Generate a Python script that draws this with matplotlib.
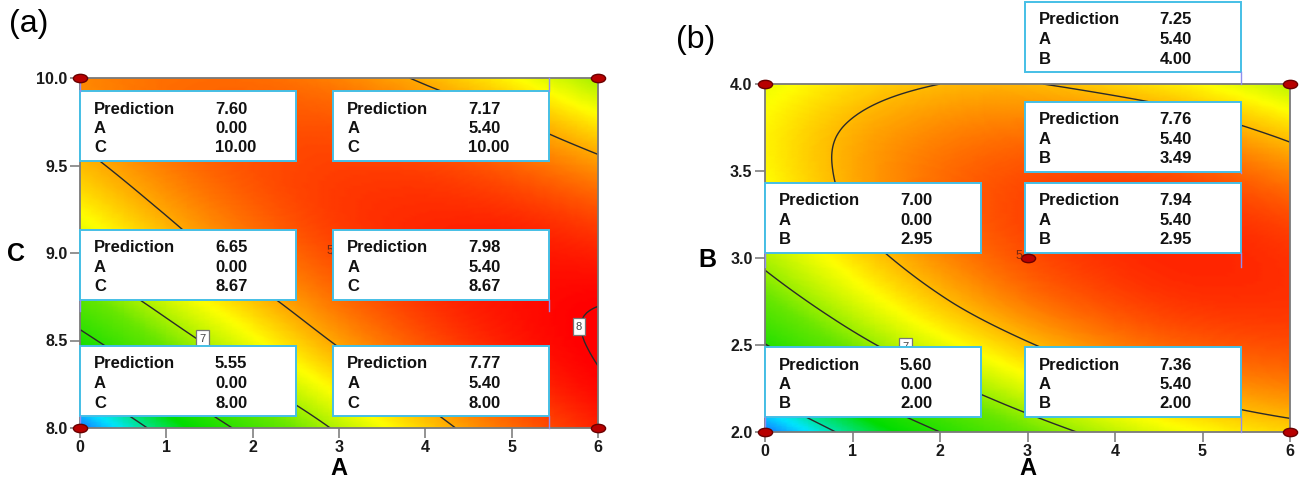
import numpy as np
import matplotlib
matplotlib.use("Agg")
import matplotlib.pyplot as plt
import matplotlib.tri as mtri
from matplotlib.colors import LinearSegmentedColormap
from matplotlib.markers import MarkerStyle
from matplotlib.transforms import Affine2D
from matplotlib.patches import Rectangle

plt.rcParams['font.family'] = ['Liberation Sans', 'DejaVu Sans']

# factor grids the response was read at
a_vals = [0, 1, 2, 3, 4, 5, 6]
c_vals = [8.0, 8.25, 8.5, 8.75, 9.0, 9.25, 9.5, 9.75, 10.0]
b_vals = [2.0, 2.25, 2.5, 2.75, 3.0, 3.25, 3.5, 3.75, 4.0]

# response surface (a): rows = C, cols = A
resp_ac = [
    [5.55, 6.12, 6.61, 7.04, 7.39, 7.68, 7.89],
    [6.01, 6.51, 6.95, 7.31, 7.60, 7.83, 7.98],
    [6.41, 6.85, 7.22, 7.53, 7.76, 7.92, 8.01],
    [6.75, 7.13, 7.44, 7.68, 7.85, 7.95, 7.99],
    [7.04, 7.36, 7.61, 7.78, 7.89, 7.93, 7.90],
    [7.27, 7.52, 7.71, 7.83, 7.87, 7.85, 7.76],
    [7.44, 7.63, 7.76, 7.81, 7.80, 7.71, 7.56],
    [7.55, 7.68, 7.74, 7.74, 7.66, 7.52, 7.30],
    [7.60, 7.67, 7.68, 7.61, 7.47, 7.26, 6.98],
]

# response surface (b): rows = B, cols = A
resp_ab = [
    [5.60, 6.09, 6.50, 6.84, 7.11, 7.30, 7.42],
    [6.09, 6.53, 6.90, 7.20, 7.43, 7.58, 7.66],
    [6.49, 6.90, 7.23, 7.48, 7.67, 7.78, 7.82],
    [6.82, 7.18, 7.47, 7.69, 7.83, 7.90, 7.90],
    [7.06, 7.38, 7.63, 7.81, 7.91, 7.94, 7.90],
    [7.23, 7.51, 7.72, 7.85, 7.91, 7.90, 7.82],
    [7.31, 7.55, 7.72, 7.81, 7.83, 7.78, 7.65],
    [7.32, 7.52, 7.64, 7.69, 7.67, 7.58, 7.41],
    [7.24, 7.40, 7.50, 7.51, 7.43, 7.30, 7.09],
]

levels_a = [6.0, 6.5, 7.0, 7.5, 8.0]
levels_b = [6.0, 6.5, 7.0, 7.5]

# flagged predictions
pred_a = [7.60, 7.17, 6.65, 7.98, 5.55, 7.77]
flag_a_A = [0.00, 5.40, 0.00, 5.40, 0.00, 5.40]
flag_a_C = [10.00, 10.00, 8.67, 8.67, 8.00, 8.00]

pred_b = [7.25, 7.76, 7.00, 7.94, 5.60, 7.36]
flag_b_A = [5.40, 5.40, 0.00, 5.40, 0.00, 5.40]
flag_b_B = [4.00, 3.49, 2.95, 2.95, 2.00, 2.00]

# design points
design_A = [0, 0, 6, 6]
design_C = [8, 10, 8, 10]
design_B = [2, 4, 2, 4]
center_a = (3, 9)
center_b = (3, 3)
center_reps = 5

a_ticks = [0, 1, 2, 3, 4, 5, 6]
c_ticks = [8.0, 8.5, 9.0, 9.5, 10.0]
b_ticks = [2.0, 2.5, 3.0, 3.5, 4.0]

cmap = LinearSegmentedColormap.from_list('de', [
    (0.0, '#1a5cff'), (0.12, '#00e6ff'), (0.30, '#00dc00'), (0.52, '#66e600'),
    (0.70, '#ffff00'), (0.85, '#ff8000'), (1.0, '#ff0000')])

W, H = 1299, 480
fig = plt.figure(figsize=(W / 100, H / 100), dpi=100)
ax1 = fig.add_axes([80 / W, 1 - 428 / H, 518 / W, 350 / H])
ax2 = fig.add_axes([765 / W, 1 - 432 / H, 525 / W, 348 / H])

ell = MarkerStyle('o', transform=Affine2D().scale(1.7, 1.0))


def surface(ax, xs, ys, z, vmin, vmax, levels):
    X, Y = np.meshgrid(xs, ys)
    tri = mtri.Triangulation(X.ravel(), Y.ravel())
    ref = mtri.UniformTriRefiner(tri)
    tri_f, z_f = ref.refine_field(np.asarray(z).ravel(), subdiv=4)
    ax.tripcolor(tri_f, z_f, shading='gouraud', cmap=cmap, vmin=vmin, vmax=vmax)
    ax.tricontour(tri_f, z_f, levels=levels, colors='#2a2a2a', linewidths=1.0)
    ax.set_xlim(xs[0], xs[-1])
    ax.set_ylim(ys[0], ys[-1])


def style(ax, yticks):
    ax.set_xticks(a_ticks)
    ax.set_xticklabels([str(t) for t in a_ticks])
    ax.set_yticks(yticks)
    ax.set_yticklabels(['%.1f' % t for t in yticks])
    ax.tick_params(direction='out', length=7, width=1.3, color='#8a8a8a',
                   labelsize=11.5, pad=2)
    for lab in ax.get_xticklabels() + ax.get_yticklabels():
        lab.set_fontweight('bold')
        lab.set_color('#1a1a1a')
    for s in ax.spines.values():
        s.set_color('#7a7a7a')
        s.set_linewidth(1.3)


def boxes(ax, second, preds, xs, ys, lifts):
    x0, x1 = ax.get_xlim()
    y0, y1 = ax.get_ylim()
    bb = ax.get_position()
    wpx = bb.width * W
    hpx = bb.height * H
    bw, bh = 216 / wpx, 70 / hpx
    for p, x, y, lift in zip(preds, xs, ys, lifts):
        fx = (x - x0) / (x1 - x0)
        fy = (y - y0) / (y1 - y0)
        left = fx if fx < 0.5 else fx + 3 / wpx - bw
        bottom = fy + lift / hpx
        ax.add_patch(Rectangle((left, bottom), bw, bh, transform=ax.transAxes,
                               fc='white', ec='#45bfe6', lw=1.4,
                               clip_on=False, zorder=5))
        edge_x = left if fx < 0.5 else left + bw
        edge_y = bottom if lift > 0 else bottom + bh
        ax.plot([edge_x, edge_x], [fy, edge_y], transform=ax.transAxes,
                color='#8f8ff0', lw=1.0, clip_on=False, zorder=5)
        rows = [('Prediction', '%.2f' % p), ('A', '%.2f' % x), (second, '%.2f' % y)]
        for i, (k, v) in enumerate(rows):
            ty = bottom + bh - (18 + 19.5 * i) / hpx
            ax.text(left + 14 / wpx, ty, k, transform=ax.transAxes, va='center',
                    fontsize=12, fontweight='bold', color='#111111', zorder=6,
                    clip_on=False)
            ax.text(left + 135 / wpx, ty, v, transform=ax.transAxes, va='center',
                    fontsize=12, fontweight='bold', color='#111111', zorder=6,
                    clip_on=False)


def clabel_box(ax, x, y, lev, z=4):
    ax.text(x, y, '%g' % lev, fontsize=8, color='#444444', ha='center', va='center',
            zorder=z, bbox=dict(boxstyle='square,pad=0.3', fc='white',
                                ec='#777777', lw=0.9))


# ---- panel (a)
surface(ax1, a_vals, c_vals, resp_ac, 5.5, 8.0, levels_a)
style(ax1, c_ticks)
clabel_box(ax1, 1.42, 8.51, levels_a[2])
clabel_box(ax1, 5.78, 8.58, levels_a[4])
ax1.plot(*center_a, marker=ell, ms=6, color='#b80000', mec='#6a0000', zorder=4)
ax1.text(center_a[0] - 0.06, center_a[1] + 0.01, str(center_reps), fontsize=9,
         color='#7a2a10', ha='right', va='center', zorder=4)
boxes(ax1, 'C', pred_a, flag_a_A, flag_a_C, [-83, -83, 11, 11, 12, 12])
ax1.plot(design_A, design_C, ls='none', marker=ell, ms=6, color='#b80000',
         mec='#6a0000', clip_on=False, zorder=8)

# ---- panel (b)
surface(ax2, a_vals, b_vals, resp_ab, 5.55, 8.05, levels_b)
style(ax2, b_ticks)
clabel_box(ax2, 1.61, 2.49, levels_b[2])
boxes(ax2, 'B', pred_b, flag_b_A, flag_b_B, [12, 1, 14, 14, 15, 15])
ax2.plot(design_A, design_B, ls='none', marker=ell, ms=6, color='#b80000',
         mec='#6a0000', clip_on=False, zorder=8)
ax2.plot(*center_b, marker=ell, ms=6, color='#b80000', mec='#6a0000', zorder=8)
ax2.text(center_b[0] - 0.06, center_b[1] + 0.01, str(center_reps), fontsize=9,
         color='#7a2a10', ha='right', va='center', zorder=8)

# panel letters and axis titles
fig.text(29 / W, 1 - 24 / H, '(a)', fontsize=23, ha='center', va='center')
fig.text(696 / W, 1 - 40 / H, '(b)', fontsize=23, ha='center', va='center')
fig.text(339 / W, 1 - 457 / H, 'A', fontsize=17, fontweight='bold', ha='center', va='top')
fig.text(16 / W, 1 - 254 / H, 'C', fontsize=18, fontweight='bold', ha='center', va='center')
fig.text(1028 / W, 1 - 457 / H, 'A', fontsize=17, fontweight='bold', ha='center', va='top')
fig.text(707 / W, 1 - 260 / H, 'B', fontsize=18, fontweight='bold', ha='center', va='center')

fig.savefig('out.png', dpi=100)
